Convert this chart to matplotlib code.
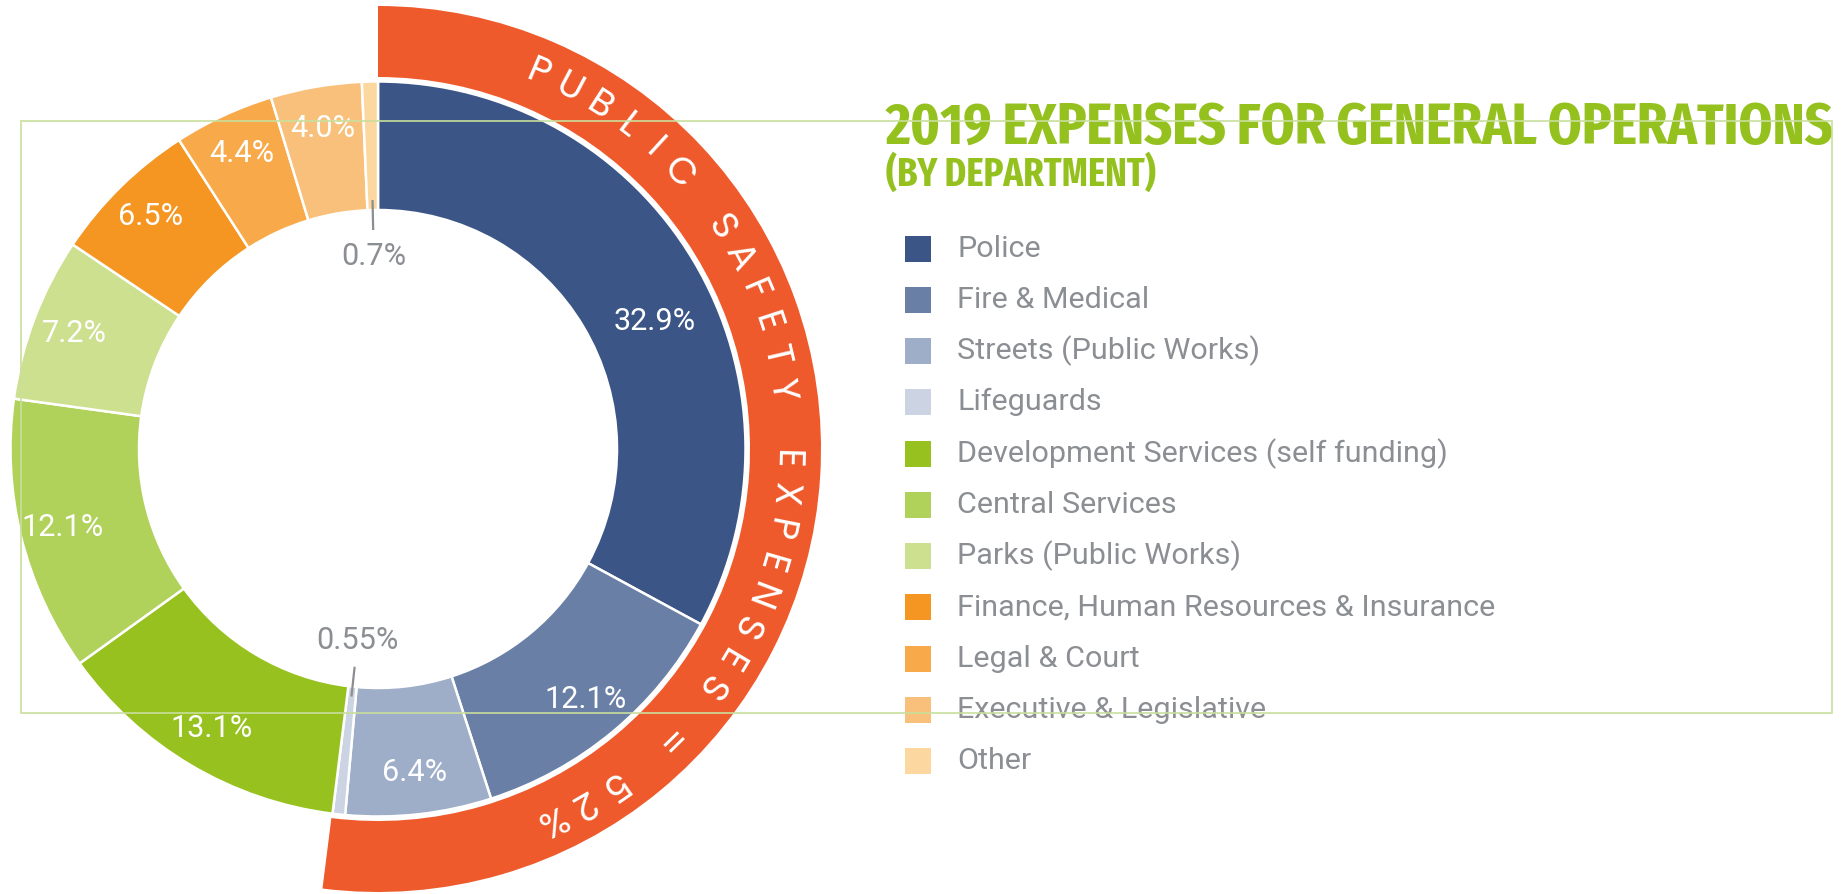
import matplotlib
matplotlib.use("Agg")
import matplotlib.pyplot as plt
import numpy as np
from matplotlib.patches import Rectangle
from matplotlib import font_manager as fm

# ---------------- data ----------------
categories = ["Police", "Fire & Medical", "Streets (Public Works)", "Lifeguards",
              "Development Services (self funding)", "Central Services",
              "Parks (Public Works)", "Finance, Human Resources & Insurance",
              "Legal & Court", "Executive & Legislative", "Other"]
shares = [32.9, 12.1, 6.4, 0.55, 13.1, 12.1, 7.2, 6.5, 4.4, 4.0, 0.7]
share_labels = ["32.9%", "12.1%", "6.4%", "0.55%", "13.1%", "12.1%",
                "7.2%", "6.5%", "4.4%", "4.0%", "0.7%"]
colors = ["#3b5586", "#6a7fa6", "#9eadc8", "#ccd3e2", "#97c11f", "#b0d15a",
          "#cde08f", "#f59622", "#f8a94a", "#f8c07a", "#fdd7a0"]
public_safety_share = 52
band_text = "PUBLIC SAFETY EXPENSES = 52%"
title = "2019 EXPENSES FOR GENERAL OPERATIONS"
subtitle = "(BY DEPARTMENT)"

# ---------------- style ----------------
band_color = "#ef5a2c"
green = "#95c11f"
gray = "#8b8e92"
frame_green = "#c9df9d"

names = {f.name for f in fm.fontManager.ttflist}


def pick(*cands):
    for c in cands:
        if c in names:
            return c
    return "DejaVu Sans"


title_family = pick("Fira Sans Extra Condensed", "Barlow Condensed", "Bebas Neue")
body_family = pick("Roboto", "Liberation Sans", "Open Sans")
band_family = pick("Poppins", "Lato")

W, H = 1847, 894
fig = plt.figure(figsize=(W / 100, H / 100), dpi=100)
ax = fig.add_axes([0, 0, 1, 1])
ax.set_xlim(0, W)
ax.set_ylim(0, H)
renderer = fig.canvas.get_renderer()

cx, cy = 378, H - 449
R_out, R_in = 367.5, 239
B_out, B_in = 443, 372


def polar(r, ang):
    t = np.deg2rad(ang)
    return cx + r * np.sin(t), cy + r * np.cos(t)


def fit_size(s, width, **kw):
    t = ax.text(0, 0, s, fontsize=20, **kw)
    w = t.get_window_extent(renderer).width
    t.remove()
    return 20 * width / w


# public safety band
ax.pie([public_safety_share, 100 - public_safety_share], colors=[band_color, "none"],
       startangle=90, counterclock=False, radius=B_out, center=(cx, cy),
       wedgeprops=dict(width=B_out - B_in, linewidth=0), frame=True)

# main donut
ax.pie(shares, colors=colors, startangle=90, counterclock=False, radius=R_out,
       center=(cx, cy), wedgeprops=dict(width=R_out - R_in, edgecolor="white", linewidth=1.8),
       frame=True)

# slice labels
label_size = fit_size("32.9%", 82, family=body_family)
total = float(sum(shares))
cum = np.concatenate([[0], np.cumsum(shares)])
for i, (s, lab) in enumerate(zip(shares, share_labels)):
    mid = (cum[i] + s / 2) / total * 360
    if s < 1:
        x1, y1 = polar(R_in + 10, mid)
        x2, y2 = polar(R_in - 20, mid)
        ax.plot([x1, x2], [y1, y2], color=gray, lw=1.6, solid_capstyle="butt", zorder=5)
        xt, yt = polar(R_in - 46, mid)
        ax.text(xt, yt, lab, color=gray, fontsize=label_size, family=body_family,
                ha="center", va="center", zorder=6)
    else:
        if s > 20:
            xt, yt = polar(0.83 * R_out, mid + 6)
        else:
            xt, yt = polar(0.885 * R_out, mid)
        ax.text(xt, yt, lab, color="white", fontsize=label_size, family=body_family,
                ha="center", va="center", zorder=6)

# curved band text
r_txt = (B_out + B_in) / 2
a0, a1 = 23.0, 155.0
n = len(band_text)
for k, ch in enumerate(band_text):
    a = a0 + (a1 - a0) * k / (n - 1)
    x, y = polar(r_txt, a)
    ax.text(x, y, ch, rotation=-a, rotation_mode="anchor", ha="center", va="center",
            color="white", fontsize=27, family=band_family, fontweight="normal", zorder=6)

# legend
legend_size = fit_size(categories[4], 488, family=body_family)
lx, ly0, dy, sq = 905, 248.6, 51.24, 26
for i, (c, name) in enumerate(zip(colors, categories)):
    yc = H - (ly0 + i * dy)
    ax.add_patch(Rectangle((lx, yc - sq / 2), sq, sq, facecolor=c, edgecolor="none", zorder=4))
    ax.text(957, yc, name, color=gray, fontsize=legend_size, family=body_family,
            ha="left", va="center", zorder=4)

# titles fitted to widths
tkw = dict(family=title_family, fontweight="bold")
ax.text(886, H - 144, title, color=green, ha="left", va="baseline", zorder=6,
        fontsize=fit_size(title, 946, **tkw), **tkw)
ax.text(886, H - 186, subtitle, color=green, ha="left", va="baseline", zorder=6,
        fontsize=fit_size(subtitle, 269, **tkw), **tkw)

# frame rectangle
ax.add_patch(Rectangle((21, H - 713), 1832 - 21, 713 - 121, fill=False,
                       edgecolor=frame_green, lw=1.4, alpha=0.85, zorder=10))

ax.set_xlim(0, W)
ax.set_ylim(0, H)
ax.set_aspect("auto")
ax.axis("off")
fig.savefig("out.png", dpi=100, facecolor="white")
